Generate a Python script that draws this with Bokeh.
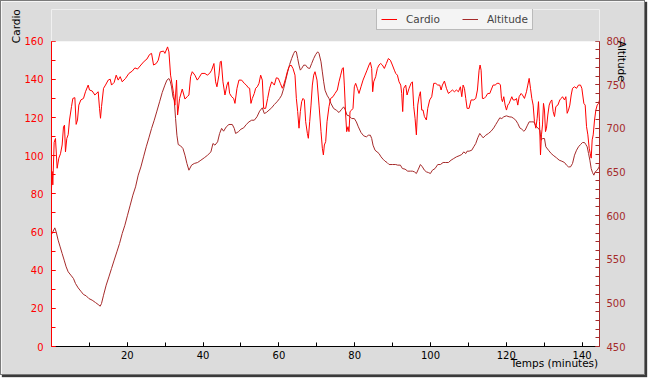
from bokeh.plotting import figure
from bokeh.models import (Range1d, LinearAxis, FixedTicker, Legend, LegendItem, BoxAnnotation,
                          GlobalInlineStyleSheet, ColumnDataSource)
from bokeh.embed import file_html
from bokeh.resources import INLINE

# ---------------- data ----------------
cardio_t = [0.0, 0.17, 0.35, 0.70, 1.05, 1.49, 1.93, 2.37, 2.81, 3.16, 3.43, 3.69, 4.04, 4.40, 4.75,
            5.28, 5.63, 6.16, 6.51, 6.86, 7.21, 7.74, 8.44, 8.97, 9.68, 10.03, 10.73, 11.44, 12.32,
            12.67, 12.93, 13.20, 13.73, 14.25, 14.96, 15.49, 15.84, 16.54, 17.07, 17.60, 18.13,
            18.66, 19.54, 20.42, 21.30, 22.00, 22.71, 23.59, 24.47, 25.17, 25.87, 26.40, 26.93,
            27.64, 28.16, 28.69, 29.57, 29.92, 30.63, 30.98, 31.42, 31.86, 32.21, 32.56, 33.00,
            33.27, 33.80, 34.50, 35.21, 35.82,
            36.26, 36.70, 37.14, 37.84, 38.46, 38.90, 39.61, 40.49, 41.10, 41.72, 42.25, 42.86,
            43.30, 43.65, 44.18, 44.53, 44.80, 45.24, 45.77, 46.30, 46.65, 47.00, 47.53, 48.06,
            48.41, 48.94, 49.46, 50.17, 50.87, 51.40, 51.93, 52.28, 52.63, 52.99, 53.51, 53.87,
            54.31, 54.75, 55.19, 55.63, 55.98, 56.51, 57.03, 57.56, 58.09, 58.80, 59.32, 59.85,
            60.38, 60.91, 61.26, 61.79, 62.23, 62.67, 63.20, 63.72, 64.25, 64.61, 64.96, 65.31,
            65.66, 66.01, 66.37, 66.72, 67.07, 67.51, 67.77, 68.13, 68.48, 68.83, 69.18, 69.53,
            70.06, 70.59, 71.12, 71.47, 71.74, 72.00, 72.35, 72.70,
            73.22, 73.66, 74.28, 74.80, 75.42, 75.86, 76.30, 76.74, 77.01, 77.27, 77.62, 77.89,
            78.24, 78.50, 78.77, 79.21, 79.56, 79.91, 80.26, 80.70, 81.14, 81.67, 82.20, 82.73,
            83.26, 83.78, 84.14, 84.49, 84.75, 85.02, 85.54, 85.98, 86.42, 86.86, 87.30, 87.83,
            88.36, 88.89, 89.42, 89.95, 90.47, 90.83, 91.27, 91.71, 92.15, 92.41, 92.67, 92.94,
            93.47, 93.82, 94.35, 94.87, 95.23, 95.58, 95.93, 96.28, 96.64, 96.99, 97.34, 97.69,
            98.04, 98.40, 98.92, 99.28, 99.80, 100.33, 100.86, 101.39, 101.92, 102.45, 102.80,
            103.15, 103.68, 104.21, 104.74, 105.26, 105.79, 106.32, 106.85, 107.38, 107.90,
            108.26, 108.61, 108.96, 109.31, 109.66,
            110.19, 110.72, 111.42, 111.95, 112.39, 112.83, 113.09, 113.36, 113.71, 114.15,
            114.59, 115.12, 115.65, 116.00, 116.53, 117.06, 117.58, 118.11, 118.46, 118.73,
            118.99, 119.34, 119.70, 120.05, 120.40, 120.75, 121.11, 121.46, 121.81, 122.34,
            122.69, 123.04, 123.39, 123.92, 124.27, 124.80, 125.33, 125.68, 126.04, 126.39,
            126.74, 127.09, 127.44, 127.80, 128.15, 128.50, 128.76, 129.03, 129.29, 129.56,
            129.82, 130.08, 130.35, 130.61, 130.96, 131.32, 131.67, 132.02, 132.37, 132.73,
            133.08, 133.61, 134.13, 134.49, 134.84, 135.37, 135.72, 136.07, 136.42, 136.77,
            137.13, 137.48, 138.01, 138.54, 139.06, 139.59, 139.94, 140.47, 140.82, 141.18,
            141.53, 141.88, 142.14, 142.41, 142.67, 142.94, 143.29, 143.64, 143.99, 144.35, 144.6]
cardio_bpm = [83, 91.7, 84.7, 107, 109, 93.4, 98.7, 101, 105.6, 115, 116, 102, 109, 111, 118.7,
              125.7, 130, 130.4, 116.4, 118.7, 126.5, 129.2, 130, 133.5, 137, 134.4, 133.9, 131.8, 133.5,
              124.8, 119.6, 125.7, 135.3, 137, 139.6, 140.1, 137, 138.4, 142.2, 139.6, 141.4,
              138.7, 140.5, 143.1, 144.3, 146, 145.4, 147.5, 149.5, 150.6, 153, 153.6, 147.5,
              148.3, 150, 154.4, 154.8, 153.6, 157, 154.4, 142.2, 137, 132.6, 126.5, 139.6,
              121.3, 130, 134.9, 129.7, 130.9,
              131.8, 141.4, 144, 142.2, 139.6, 140.8, 143.1, 143.1, 142.2, 143.1, 144.8, 148.3,
              138.7, 136.1, 142.2, 149.2, 149.5, 138.7, 131.8, 137, 138.7, 132.6, 130.9, 130,
              127.4, 135.3, 139.6, 139.6, 137.9, 137, 135.6, 135.3, 127.4, 130, 132.6, 135.3,
              136.1, 137.9, 142.2, 139.6, 124.8, 124.8, 130, 135.3, 138.7, 137, 140.8, 140.5,
              137.9, 135.3, 137, 140.5, 144, 146.6, 147.5, 145.7, 142.2, 130, 123.1, 114.4,
              123.1, 128.3, 130, 129.2, 117.8, 111.7, 109.1, 117.8, 126.5, 137, 142.2, 144,
              139.6, 126.5, 112.6, 103.9, 100.4, 105.6, 107.4, 117.8,
              125.7, 130, 130.9, 132.6, 134.4, 138.7, 142.2, 145.7, 146.1, 137, 121.3, 112.6,
              115.2, 112.6, 123.1, 123.9, 124.8, 136.1, 137.9, 135.3, 132.6, 136.1, 139.6, 142.2,
              144.8, 147.5, 148.9, 145.7, 133.5, 138.7, 141.4, 145.7, 147.5, 148.3, 147.5, 145.7,
              148.3, 150.9, 150, 147.5, 144.8, 143.1, 142.2, 138.7, 137, 132.6, 123.1, 135.3,
              137, 131.8, 135.3, 137.9, 138.7, 125.7, 119.6, 110.9, 126.5, 130.9, 133.5, 123.9,
              123.9, 120.5, 118.7, 124.8, 129.2, 130.9, 137.9, 137.9, 137, 137, 134.4,
              137, 139.1, 135.3, 132.6, 133.5, 134.4, 133.5, 134.4, 133.5, 136.1,
              130.9, 137, 135.3, 130, 124.8,
              124.8, 129.2, 129.2, 130, 134.4, 144.8, 147.5, 144.8, 130, 130,
              130.9, 132.6, 132.6, 134.4, 137, 137, 137.9, 137.9, 137, 130,
              128.3, 130.9, 126.5, 123.9, 126.5, 127.4, 129.2, 130.9, 129.2, 129.2,
              130, 126.5, 130.9, 132.6, 131.8, 130, 133.5, 137, 140.5, 135.3,
              130, 126.5, 117.8, 114.4, 119.6, 128.3, 117.8, 100.4, 110.9, 116.1,
              127.4, 123.9, 112.6, 114.4, 121.3, 126.5, 128.3, 129.2, 123.1, 120.5,
              125.7, 126.5, 129.2, 130, 130.9, 129.2, 130.9, 122.2, 123.9, 126.5,
              131.8, 135.3, 136.1, 135.3, 137, 137, 135.3, 127.4, 126.5, 115.2,
              110.9, 103.9, 101.3, 98.7, 108.3, 110.9, 118.7, 123.9, 126.5, 127.4, 129.2]

alt_t = [0.0, 0.35, 0.87, 1.23, 1.75, 2.28, 2.81, 3.34, 3.87, 4.40, 5.10, 5.80, 6.33, 7.04, 7.74,
         8.44, 9.15, 9.85, 10.73, 11.61, 12.32, 12.85, 13.20, 13.73, 14.43, 15.14, 15.84, 16.54,
         17.25, 17.95, 18.66, 19.36, 20.06, 20.77, 21.47, 22.18, 22.88, 23.59, 24.29, 25.00,
         25.70, 26.40, 27.11, 27.81, 28.52, 29.22, 29.92, 30.45, 30.98, 31.33, 31.68, 32.04,
         32.39, 32.74, 33.09, 33.44, 34.06, 34.68, 35.21, 35.73, 36.26,
         36.96, 37.67, 38.55, 39.43, 40.31, 41.19, 42.07, 42.60, 43.13, 43.83, 44.36, 44.89,
         45.41, 46.12, 46.82, 47.70, 48.23, 48.58, 49.29, 49.99, 50.70, 51.40, 52.11, 52.81,
         53.51, 54.22, 54.92, 55.63, 56.15, 56.68, 57.39, 58.09, 58.80, 59.50, 60.20, 60.73,
         61.26, 61.79, 62.32, 62.84, 63.37, 63.90, 64.25, 64.61, 64.96, 65.31, 65.66, 66.01,
         66.54, 67.07, 67.60, 68.13, 68.65, 69.18, 69.71, 70.24, 70.59, 71.12, 71.47, 71.82,
         72.18, 72.70,
         73.22, 73.75, 74.45, 75.16, 75.86, 76.57, 77.09, 77.45, 77.97, 78.50, 79.21, 79.91,
         80.44, 80.97, 81.67, 82.37, 83.08, 83.61, 84.14, 84.49, 84.84, 85.37, 85.90, 86.42,
         86.95, 87.48, 88.01, 88.54, 89.07, 89.95, 90.83, 91.35, 92.06, 92.59, 93.29, 93.99,
         94.70, 95.23, 95.75, 96.28, 96.81, 97.34, 97.87, 98.40, 98.92, 99.45, 99.98, 100.51,
         101.21, 101.92, 102.62, 103.33, 104.03, 104.74, 105.44, 106.14, 106.85, 107.55,
         108.26, 108.78, 109.31, 109.66,
         110.19, 110.89, 111.42, 111.95, 112.48, 113.01, 113.36, 113.89, 114.59, 115.30,
         116.00, 116.70, 117.23, 117.76, 118.29, 118.82, 119.34, 120.05, 120.75, 121.46,
         121.99, 122.51, 123.04, 123.57, 124.10, 124.63, 124.98, 125.51, 126.04, 126.56,
         127.27, 127.80, 128.32, 128.85, 129.20, 129.56, 130.08, 130.44, 131.14, 131.85,
         132.55, 133.25, 133.96, 134.66, 135.37, 135.89, 136.42, 136.95, 137.48, 138.01,
         138.54, 139.06, 139.59, 140.12, 140.65, 141.00, 141.35, 141.71, 142.06, 142.41,
         142.76, 143.11, 143.46, 143.99, 144.52, 144.6]
alt_m = [578.4, 581.4, 586, 581.4, 571.9, 564.2, 556.6, 549, 541.3, 535.6, 531.8, 527.9, 522.2, 517.2, 513.4,
         509.6, 508.1, 505, 503.1, 500.4, 498.1, 496.2, 499.3, 508.8, 520.3, 529.8, 539.4, 549,
         558.5, 568, 579.5, 589, 600.5, 612, 623.5, 633, 646.4, 655.9, 667.4, 678.9,
         689.2, 699.9, 709.4, 719.8, 730.5, 741.2, 749.6, 755.3, 757.2, 754.1, 747.6, 736.2,
         732.4, 711.3, 692.2, 681.5, 680, 677, 669.3, 659.8, 652.1,
         657.9, 659.8, 660.9, 663.6, 666.3, 669.3, 673.1, 682.7, 680.8, 684.6, 694.2, 700,
         696.8, 701.8, 704.5, 704.5, 700, 694.2, 696.1, 699.1, 700.6, 704.5, 707.5, 709.4,
         709.4, 713.3, 719.8, 723.6, 717.1, 718.2, 720.9, 723.6, 727.4, 730.5, 734.3, 738.1,
         745.7, 755.3, 764.8, 773.3, 780.1, 785.9, 788.5, 787.8, 780.1, 772.5, 766.8, 768.7,
         772.5, 772.5, 769.4, 768.7, 774.4, 780.1, 784.7, 787.8, 785.9, 776.3, 764.8, 753.4,
         743.8, 738.1,
         734.3, 728.5, 722.8, 720.9, 718.2, 722, 724.7, 722, 715.2, 714.4, 711.3, 711.3,
         707.5, 701.8, 695.3, 691.5, 690.3, 692.2, 692.2, 688.4, 680.8, 675, 673.1, 671.2,
         667.4, 664.7, 662.4, 660.9, 658.6, 658.6, 658.6, 657.9, 657.9, 654, 653.3, 651,
         651, 651, 650.2, 648.3, 653.3, 658.6, 655.9, 652.1, 650.2, 649.4, 648.3, 652.1,
         654, 658.6, 658.6, 660.9, 660.9, 660.9, 663.6, 665.5, 667.4, 668.6,
         670.1, 673.1, 671.2, 673.9,
         673.9, 675, 678.9, 682.7, 689.2, 694.2, 692.2, 689.2, 692.2, 694.2,
         696.8, 700.6, 704.5, 708.3, 712.1, 711.3, 713.3, 714.4, 713.3, 712.9,
         711.3, 709.4, 705.6, 700.6, 699.1, 696.8, 698, 702.9, 707.5, 707.5,
         707.5, 702.9, 700.6, 698, 686.5, 688.4, 688.4, 678.9, 675, 671.2,
         668.6, 666.3, 663.6, 662.4, 660.9, 657.9, 655.9, 655.9, 659.8, 669.3,
         675, 678.9, 681.5, 683.8, 683.8, 681.5, 678.9, 671.2, 663.6, 654,
         649.4, 646.4, 650.2, 652.1, 655.9, 660]

x_ticks = [20, 40, 60, 80, 100, 120, 140]
x_minor = [10, 20, 30, 40, 50, 60, 70, 80, 90, 100, 110, 120, 130, 140]
cardio_ticks = [0, 20, 40, 60, 80, 100, 120, 140, 160]
cardio_minor = [0, 10, 20, 30, 40, 50, 60, 70, 80, 90, 100, 110, 120, 130, 140, 150, 160]
alt_ticks = [450, 500, 550, 600, 650, 700, 750, 800]
alt_minor = list(range(450, 801, 10))

series_names = ["Cardio", "Altitude"]
x_title = "Temps (minutes)"

# ---------------- styling ----------------
RED = "#ff0000"
BROWN = "#a52a2a"
BG = "#dcdcdc"
FONT = "DejaVu Sans"
NB = "\u00a0"   # non-breaking spaces shift the axis titles along their axes

# frame extends up into the top band (which is painted grey) so the legend is not clipped
p = figure(width=645, height=375, output_backend="svg", toolbar_location=None,
           x_range=Range1d(0, 144.6), y_range=Range1d(0, 176.6),
           min_border_left=50, min_border_right=47, min_border_top=8, min_border_bottom=30,
           border_fill_color=BG, background_fill_color="white", outline_line_color=None,
           styles={"border": "1px solid #7a7a7a", "box-shadow": "2px 2px 1px #3a3a3a"},
           stylesheets=[GlobalInlineStyleSheet(css="body{margin:0 !important;}")])
p.extra_y_ranges = {"alt": Range1d(450, 836.3)}
p.xgrid.visible = False
p.ygrid.visible = False

def style_axis(ax, color, ticks, minor, standoff, label, label_standoff, label_align,
               bounds=None):
    ax.ticker = FixedTicker(ticks=ticks, minor_ticks=minor)
    if bounds is not None:
        ax.bounds = bounds
    ax.axis_line_color = color
    ax.major_tick_line_color = color
    ax.minor_tick_line_color = color
    ax.major_label_text_color = color
    ax.major_tick_in = 4
    ax.major_tick_out = 0
    ax.minor_tick_in = 4
    ax.minor_tick_out = 0
    ax.major_label_standoff = standoff
    ax.major_label_text_font = FONT
    ax.major_label_text_font_size = "10px"
    ax.axis_label = label
    ax.axis_label_align = "end"
    ax.axis_label_text_align = label_align
    ax.axis_label_standoff = label_standoff
    ax.axis_label_text_font = FONT
    ax.axis_label_text_font_size = "10.5px"
    ax.axis_label_text_font_style = "normal"
    ax.axis_label_text_color = "black"

style_axis(p.xaxis[0], "black", x_ticks, x_minor, 4, x_title + NB * 27, -5, "right")
style_axis(p.yaxis[0], RED, cardio_ticks, cardio_minor, 8, series_names[0] + NB * 10, -1, "right",
           (cardio_ticks[0], cardio_ticks[-1]))
right = LinearAxis(y_range_name="alt")
style_axis(right, BROWN, alt_ticks, alt_minor, 7, NB * 31 + series_names[1], -13, "left",
           (alt_ticks[0], alt_ticks[-1]))
p.add_layout(right, "right")

src_c = ColumnDataSource(dict(t=cardio_t, v=cardio_bpm))
src_a = ColumnDataSource(dict(t=alt_t, v=alt_m))
ra = p.line("t", "v", source=src_a, color=BROWN, line_width=1, y_range_name="alt")
rc = p.line("t", "v", source=src_c, color=RED, line_width=1)

# grey band above the top of the value axes
p.add_layout(BoxAnnotation(bottom=cardio_ticks[-1], fill_color=BG, fill_alpha=1.0,
                           line_color=None))

legend = Legend(items=[LegendItem(label=series_names[0], renderers=[rc]),
                       LegendItem(label=series_names[1], renderers=[ra])],
                orientation="horizontal", location=(325, 316),
                border_line_color="#808080", background_fill_color="#f4f4f4",
                background_fill_alpha=1.0, label_text_font=FONT, label_text_font_size="10.5px",
                glyph_width=16, glyph_height=12, label_height=12, label_standoff=9,
                spacing=22, padding=4, margin=0)
p.add_layout(legend)

open("out.html", "w").write(file_html(p, INLINE))
